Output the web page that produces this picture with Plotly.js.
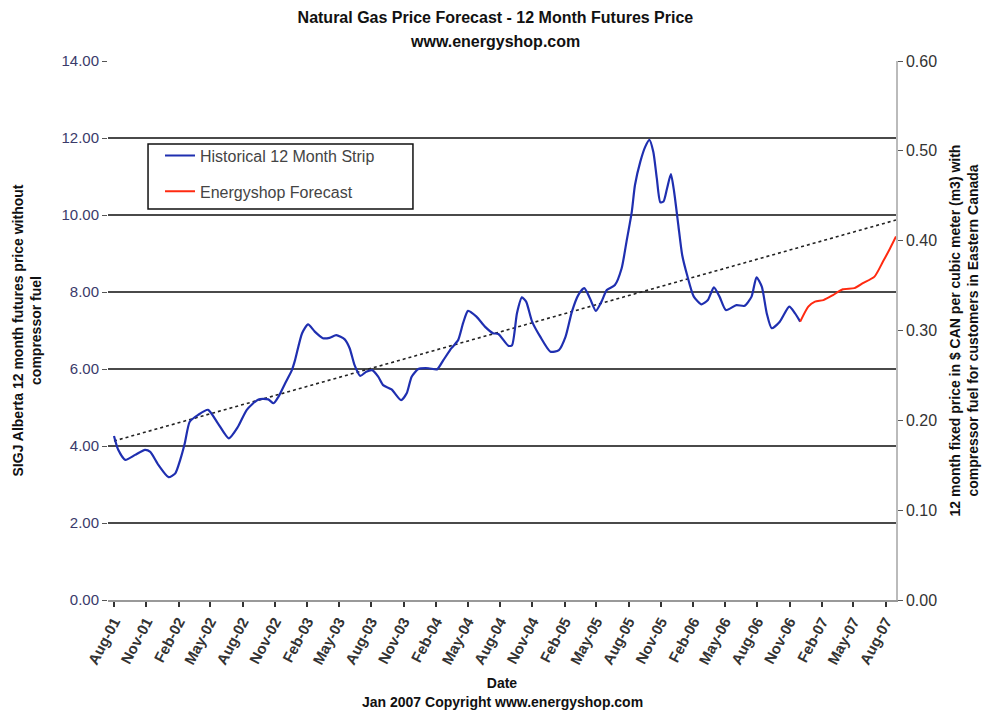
<!DOCTYPE html>
<html>
<head>
<meta charset="utf-8">
<script src="https://cdn.plot.ly/plotly-3.0.1.min.js"></script>
<style>html,body{margin:0;padding:0;background:#fff}#chart{width:983px;height:715px}</style>
</head>
<body>
<div id="chart"></div>
<script>
// Historical 12 Month Strip
const histDates = ["2001-08-01","2001-08-13","2001-09-02","2001-09-30","2001-10-28","2001-11-12","2001-12-05","2002-01-03","2002-01-22","2002-02-05","2002-02-18","2002-03-04","2002-03-28","2002-04-25","2002-05-23","2002-06-23","2002-07-19","2002-08-13","2002-09-15","2002-10-13","2002-10-28","2002-11-11","2002-11-30","2002-12-19","2002-12-28","2003-01-17","2003-02-03","2003-02-22","2003-03-17","2003-04-05","2003-04-24","2003-05-18","2003-06-01","2003-06-15","2003-07-01","2003-07-18","2003-08-04","2003-08-21","2003-09-04","2003-09-28","2003-10-25","2003-11-10","2003-11-24","2003-12-13","2004-01-11","2004-02-04","2004-02-22","2004-03-16","2004-04-04","2004-04-18","2004-05-02","2004-05-26","2004-06-19","2004-07-12","2004-07-27","2004-08-25","2004-09-04","2004-09-18","2004-10-02","2004-10-14","2004-10-31","2004-11-23","2004-12-22","2005-01-15","2005-02-03","2005-02-21","2005-03-11","2005-03-28","2005-04-13","2005-04-30","2005-05-16","2005-05-31","2005-06-23","2005-07-12","2005-07-26","2005-08-10","2005-08-19","2005-09-03","2005-09-17","2005-09-29","2005-10-10","2005-10-20","2005-10-30","2005-11-08","2005-11-18","2005-11-29","2005-12-08","2005-12-20","2005-12-31","2006-01-14","2006-02-02","2006-02-24","2006-03-14","2006-03-31","2006-04-16","2006-05-04","2006-06-03","2006-06-26","2006-07-16","2006-07-30","2006-08-14","2006-08-28","2006-09-11","2006-10-04","2006-10-31","2006-11-16","2006-12-01"];
const histValues = [4.26,3.90,3.64,3.77,3.90,3.85,3.51,3.19,3.29,3.64,4.07,4.63,4.81,4.94,4.59,4.20,4.50,4.94,5.21,5.21,5.11,5.28,5.63,5.97,6.23,6.93,7.16,6.97,6.80,6.81,6.88,6.77,6.54,6.10,5.82,5.93,5.97,5.80,5.58,5.47,5.19,5.37,5.80,6.00,6.02,5.99,6.23,6.54,6.75,7.19,7.51,7.36,7.10,6.93,6.91,6.60,6.62,7.45,7.86,7.75,7.23,6.84,6.45,6.49,6.84,7.49,7.92,8.10,7.84,7.51,7.75,8.05,8.18,8.61,9.31,10.09,10.78,11.38,11.77,11.95,11.64,10.95,10.33,10.35,10.69,11.06,10.61,9.74,8.96,8.44,7.88,7.68,7.79,8.12,7.88,7.53,7.66,7.64,7.88,8.38,8.14,7.45,7.06,7.23,7.62,7.45,7.23];

// Energyshop Forecast
const fcstDates = ["2006-12-01","2006-12-24","2007-01-12","2007-02-05","2007-03-04","2007-04-01","2007-05-04","2007-05-28","2007-06-30","2007-07-24","2007-08-13","2007-08-30"];
const fcstValues = [7.23,7.62,7.75,7.79,7.92,8.07,8.10,8.23,8.40,8.79,9.13,9.44];

// Linear trend line (dotted)
const trendDates = ["2001-08-01","2007-08-30"];
const trendValues = [4.13,9.87];

const seriesNames = ["Historical 12 Month Strip","Energyshop Forecast"];
const titleLines = ["Natural Gas Price Forecast - 12 Month Futures Price","www.energyshop.com"];
const leftTitle = ["SIGJ Alberta 12 month futures price without","compressor fuel"];
const rightTitle = ["12 month fixed price in $ CAN per cubic meter (m3) with","compressor fuel for customers in Eastern Canada"];
const xTitle = "Date";
const footer = "Jan 2007 Copyright www.energyshop.com";

const FONT = "Liberation Sans, Arial, sans-serif";

const traces = [
  {x: trendDates, y: trendValues, type: "scatter", mode: "lines",
   line: {color: "#222", width: 1.6, dash: "dot"}, showlegend: false, hoverinfo: "skip"},
  {x: histDates, y: histValues, type: "scatter", mode: "lines", name: seriesNames[0],
   legendgroup: "a", line: {color: "#1f2fb0", width: 2.2, shape: "spline", smoothing: 0.6}},
  {x: fcstDates, y: fcstValues, type: "scatter", mode: "lines", name: seriesNames[1],
   legendgroup: "b", line: {color: "#ff2a10", width: 2, shape: "spline", smoothing: 0.6}},
  {x: [], y: [], yaxis: "y2", type: "scatter", showlegend: false}
];

const layout = {
  width: 983, height: 715,
  paper_bgcolor: "#fff", plot_bgcolor: "#fff",
  margin: {l: 108, r: 87, t: 61, b: 115},
  font: {family: FONT, size: 16, color: "#333"},
  title: {text: "<b>" + titleLines[0] + "</b>",
          font: {family: FONT, size: 16, color: "#111"},
          x: 0.504, xref: "container", xanchor: "center",
          y: 1 - 17/715, yref: "container", yanchor: "middle"},
  xaxis: {
    type: "date", range: ["2001-07-15", "2007-08-30"],
    tick0: "2001-08-01", dtick: "M3", tickformat: "%b-%y", tickangle: -62,
    ticks: "outside", ticklen: 5, tickcolor: "#333", tickwidth: 1.5,
    showgrid: false, showline: true, linecolor: "#999", linewidth: 2, zeroline: false,
    tickfont: {family: FONT, size: 15, color: "#333", weight: "bold"},
    title: {text: "<b>" + xTitle + "</b>", font: {family: FONT, size: 14, color: "#111"}, standoff: 12}
  },
  yaxis: {
    range: [0, 14], dtick: 2, tickformat: ".2f",
    showgrid: true, gridcolor: "#4a4a4a", gridwidth: 1.5,
    zeroline: false, showline: false,
    ticks: "outside", ticklen: 5, tickcolor: "#555",
    tickfont: {family: FONT, size: 15, color: "#3a3a6a"},
    title: {text: "<b>" + leftTitle[0] + "</b><br><b>" + leftTitle[1] + "</b>",
            font: {family: FONT, size: 14, color: "#111"}, standoff: 16}
  },
  yaxis2: {
    overlaying: "y", side: "right", range: [0, 0.6], dtick: 0.1, tickformat: ".2f",
    showgrid: false, zeroline: false, showline: true, linecolor: "#bbb", linewidth: 1.5,
    ticks: "outside", ticklen: 5, tickcolor: "#555",
    tickfont: {family: FONT, size: 16, color: "#333"},
    title: {text: "<b>" + rightTitle[0] + "</b><br><b>" + rightTitle[1] + "</b>",
            font: {family: FONT, size: 14, color: "#111"}, standoff: 14}
  },
  showlegend: true,
  legend: {x: 0.066, y: 0.856, xanchor: "left", yanchor: "top",
           bgcolor: "rgba(0,0,0,0)", borderwidth: 0, tracegroupgap: 12,
           font: {family: FONT, size: 16, color: "#444"}},
  shapes: [
    {type: "rect", xref: "paper", yref: "paper", x0: 0.0508, x1: 0.387, y0: 0.7254, y1: 0.846,
     line: {color: "#111", width: 1.5}, fillcolor: "rgba(0,0,0,0)", layer: "above"}
  ],
  annotations: [
    {text: "<b>" + titleLines[1] + "</b>", xref: "paper", yref: "paper", x: 0.491, y: (600 - 41) / 539,
     xanchor: "center", yanchor: "middle", showarrow: false,
     font: {family: FONT, size: 16, color: "#111"}},
    {text: "<b>" + footer + "</b>", xref: "paper", yref: "paper", x: 0.50, y: -0.19,
     xanchor: "center", yanchor: "middle", showarrow: false,
     font: {family: FONT, size: 14, color: "#111"}}
  ]
};

Plotly.newPlot("chart", traces, layout, {displayModeBar: false, responsive: false});
</script>
</body>
</html>
